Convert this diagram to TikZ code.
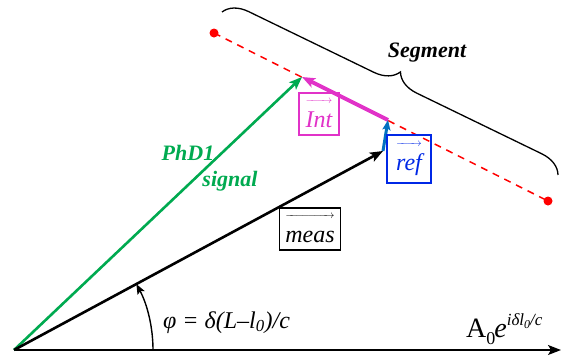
\documentclass[tikz,border=0pt]{standalone}
\usepackage{fontspec}
\setmainfont{Liberation Serif}
\usetikzlibrary{arrows.meta,decorations.pathreplacing}
\definecolor{pgreen}{RGB}{0,170,80}
\definecolor{pmag}{RGB}{225,50,200}
\definecolor{pblue}{RGB}{0,40,230}
\definecolor{sblue}{RGB}{0,112,192}
\newcommand{\ovarr}[1]{\setbox0\hbox{#1}\vbox{\hbox to \wd0{\fontsize{11}{11}\selectfont\rightarrowfill}\kern-2pt\box0}}
\tikzset{
  vecbox/.style={draw, line width=1.2pt, inner sep=0pt, font=\fontsize{24}{26}\selectfont\itshape},
  lbl/.style={font=\fontsize{22}{24}\selectfont\bfseries\itshape},
  bigtip/.style={-{Stealth[length=13pt,width=10pt,inset=3pt]}},
  smalltip/.style={-{Stealth[length=10pt,width=8pt,inset=2pt]}}
}
\begin{document}
\begin{tikzpicture}[x=1pt,y=-1pt]
\useasboundingbox (0,0) rectangle (564,360);
\coordinate (O) at (14,350);
\coordinate (X) at (561,350);
\coordinate (G) at (302,77);
\coordinate (R) at (388,120);
\coordinate (M) at (383,151);
\coordinate (D1) at (214,33);
\coordinate (D2) at (548,201);
\coordinate (B1) at (222,12);
\coordinate (B2) at (558,175);
\coordinate (A0) at (153,350);

% dashed segment line
\draw[red, line width=1.5pt, dash pattern=on 7pt off 6pt] (D1) -- (D2);
\fill[red] (D1) circle[radius=4.5];
\fill[red] (D2) circle[radius=4.5];

% brace
\draw[line width=1.3pt, decorate, decoration={brace, amplitude=24pt}] (B1) -- (B2);

% vectors
\draw[line width=1.5pt, bigtip] (O) -- (X);
\draw[pgreen, line width=2.6pt, bigtip] (O) -- (G);
\draw[line width=2.6pt, bigtip] (O) -- (M);
\draw[pmag, line width=4pt, bigtip] (R) -- (G);
\draw[sblue, line width=3pt, smalltip] (M) -- (R);

% angle
\draw[line width=1.4pt, smalltip] (A0) arc[start angle=0, end angle=-28.3, radius=139];

% labels
\node[lbl, text=pgreen, anchor=base] (phd) at (188,160) {PhD1};
\node[lbl, text=pgreen, anchor=base] (sig) at (230,186) {signal};
\node[lbl, anchor=base] (seg) at (427,57) {Segment};
\node[vecbox, draw=pmag, text=pmag, minimum width=40pt, minimum height=42pt] (int) at (319,114) {\ovarr{Int}};
\node[vecbox, draw=pblue, text=pblue, minimum width=44pt, minimum height=48pt] (ref) at (409,159) {\ovarr{ref}};
\node[vecbox, minimum width=61pt, minimum height=42pt] (meas) at (310,229) {\ovarr{meas}};
\node[anchor=base west, inner sep=0pt, font=\fontsize{24}{26}\selectfont\itshape] (phi) at (163,328) {φ = δ(L–l\textsubscript{0})/c};
\node[anchor=base west, inner sep=0pt, font=\fontsize{28}{30}\selectfont] (amp) at (466,337) {A\raisebox{-7pt}{\fontsize{18}{18}\selectfont 0}\kern-1pt\textit{e}\raisebox{12pt}{\fontsize{17}{17}\selectfont\itshape iδl\raisebox{-3pt}{\fontsize{12}{12}\selectfont 0}/c}};
\end{tikzpicture}
\end{document}
